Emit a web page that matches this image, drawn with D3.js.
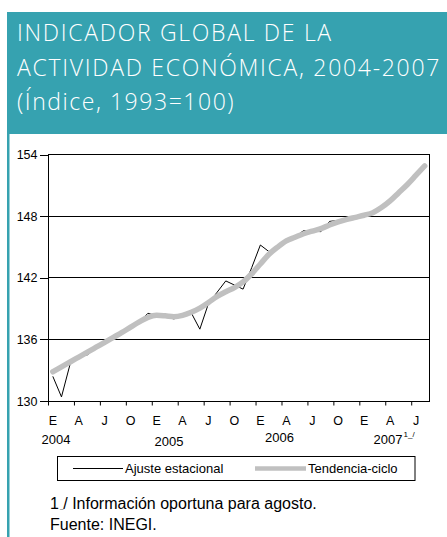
<!DOCTYPE html>
<html>
<head>
<meta charset="utf-8">
<script src="https://cdn.jsdelivr.net/npm/d3@7"></script>
<style>
  html, body { margin: 0; padding: 0; background: #fff; }
  svg { display: block; }
  text { font-family: "Liberation Sans", Arial, sans-serif; }
</style>
</head>
<body>
<svg id="chart" width="447" height="537"></svg>
<script>
// ---- data ----
const categories = [
  "2004-01","2004-02","2004-03","2004-04","2004-05","2004-06","2004-07","2004-08","2004-09","2004-10","2004-11","2004-12",
  "2005-01","2005-02","2005-03","2005-04","2005-05","2005-06","2005-07","2005-08","2005-09","2005-10","2005-11","2005-12",
  "2006-01","2006-02","2006-03","2006-04","2006-05","2006-06","2006-07","2006-08","2006-09","2006-10","2006-11","2006-12",
  "2007-01","2007-02","2007-03","2007-04","2007-05","2007-06","2007-07","2007-08"
];
const ajusteEstacional = [
  132.4, 130.4, 133.6, 134.4, 134.5, 135.2, 135.8, 136.2, 136.7, 137.2, 137.7, 138.55,
  138.3, 138.2, 138.0, 138.3, 138.6, 137.0, 139.5, 140.6, 141.7, 141.3, 140.9, 143.0,
  145.2, 144.55, 145.1, 145.6, 146.0, 146.6, 146.55, 146.5, 147.5, 147.6, 147.7, 147.9,
  148.1, 148.4, 148.9, 149.5, 150.3, 151.1, 152.0, 152.9
];
const tendenciaCiclo = [
  132.85, 133.33, 133.8, 134.28, 134.76, 135.24, 135.72, 136.2, 136.68, 137.2, 137.7, 138.15,
  138.35, 138.3, 138.22, 138.35, 138.65, 139.05, 139.6, 140.2, 140.65, 141.05, 141.6, 142.4,
  143.35, 144.3, 145.0, 145.6, 145.95, 146.3, 146.55, 146.8, 147.15, 147.45, 147.7, 147.9,
  148.1, 148.35, 148.85, 149.5, 150.3, 151.1, 152.0, 152.9
];
const monthTicks = ["2004-01","2004-04","2004-07","2004-10","2005-01","2005-04","2005-07","2005-10",
                    "2006-01","2006-04","2006-07","2006-10","2007-01","2007-04","2007-07"];
const monthTickLabels = ["E","A","J","O","E","A","J","O","E","A","J","O","E","A","J"];
const yearLabels = ["2004","2005","2006","2007"];
const yTicks = [130, 136, 142, 148, 154];
const titleLines = ["INDICADOR GLOBAL DE LA", "ACTIVIDAD ECONÓMICA, 2004-2007", "(Índice, 1993=100)"];
const seriesNames = ["Ajuste estacional", "Tendencia-ciclo"];

// ---- layout ----
const svg = d3.select("#chart");
const teal = "#36a2b0";
const plot = { left: 48.5, right: 429, top: 154.7, bottom: 401 };

// header
svg.append("rect").attr("x", 7).attr("y", 12).attr("width", 440).attr("height", 122).attr("fill", teal);
svg.append("rect").attr("x", 7).attr("y", 133).attr("width", 2.5).attr("height", 404).attr("fill", teal);
const titleY = [41, 75.5, 110];
const titleSpacing = [1.7, 1.7, 1.55];
svg.selectAll("text.title").data(titleLines).join("text")
  .attr("class", "title")
  .attr("x", 17).attr("y", (d, i) => titleY[i])
  .attr("fill", "#fff")
  .style("font-family", "'Open Sans', sans-serif")
  .style("font-weight", 300)
  .style("font-size", "23px")
  .style("letter-spacing", (d, i) => titleSpacing[i] + "px")
  .text(d => d);

// scales
const x = d3.scaleBand().domain(categories).range([plot.left, plot.right]).padding(0);
const bw = x.bandwidth();
const cx = d => x(d) + bw / 2;
const y = d3.scaleLinear().domain([130, 154]).range([plot.bottom, plot.top]);

// gridlines
svg.append("g").selectAll("line").data(yTicks.filter(v => v > 130 && v < 154)).join("line")
  .attr("x1", plot.left).attr("x2", plot.right)
  .attr("y1", d => y(d)).attr("y2", d => y(d))
  .attr("stroke", "#000").attr("stroke-width", 1).attr("shape-rendering", "crispEdges");

// series
const lineA = d3.line().x((d, i) => cx(categories[i])).y(d => y(d));
const lineT = d3.line().x((d, i) => cx(categories[i])).y(d => y(d)).curve(d3.curveMonotoneX);
svg.append("path").datum(ajusteEstacional).attr("d", lineA)
  .attr("fill", "none").attr("stroke", "#000").attr("stroke-width", 1);
svg.append("path").datum(tendenciaCiclo).attr("d", lineT)
  .attr("fill", "none").attr("stroke", "#c0c0c0").attr("stroke-width", 5.5)
  .attr("stroke-linecap", "round").attr("stroke-linejoin", "round");

// frame
svg.append("rect").attr("x", plot.left).attr("y", plot.top)
  .attr("width", plot.right - plot.left).attr("height", plot.bottom - plot.top)
  .attr("fill", "none").attr("stroke", "#000").attr("stroke-width", 1).attr("shape-rendering", "crispEdges");

// y axis
const yAxis = svg.append("g").attr("transform", `translate(${plot.left},0)`)
  .call(d3.axisLeft(y).tickValues(yTicks).tickSize(9).tickPadding(2).tickFormat(d3.format("d")));
yAxis.select(".domain").remove();
yAxis.selectAll("line").attr("stroke", "#000").attr("shape-rendering", "crispEdges");
yAxis.selectAll("text").style("font-size", "12.5px").attr("fill", "#000")
  .style("font-family", "'Liberation Sans', Arial, sans-serif");

// x axis
const xAxis = svg.append("g").attr("transform", `translate(0,${plot.bottom})`)
  .call(d3.axisBottom(x).tickValues(monthTicks).tickSize(4.5)
    .tickFormat((d, i) => monthTickLabels[i]));
xAxis.select(".domain").remove();
xAxis.selectAll("line").attr("x1", -bw / 2).attr("x2", -bw / 2).attr("stroke", "#000");
xAxis.selectAll("text").attr("y", 24).attr("dy", 0).style("font-size", "12.5px").attr("fill", "#000")
  .style("font-family", "'Liberation Sans', Arial, sans-serif");

// year labels
const yearY = [444, 446, 442, 444];
const yearX = [56, 169, 279.5, 388];
svg.selectAll("text.year").data(yearLabels).join("text")
  .attr("class", "year")
  .attr("x", (d, i) => yearX[i]).attr("y", (d, i) => yearY[i])
  .attr("text-anchor", "middle").style("font-size", "13px").text(d => d);
svg.append("text").attr("x", 403.5).attr("y", 437).style("font-size", "8px").text("1_/");

// legend
svg.append("rect").attr("x", 57.5).attr("y", 456.5).attr("width", 357.5).attr("height", 24)
  .attr("fill", "#fff").attr("stroke", "#000").attr("stroke-width", 1);
svg.append("line").attr("x1", 73).attr("x2", 123).attr("y1", 468.5).attr("y2", 468.5)
  .attr("stroke", "#000").attr("stroke-width", 1);
svg.append("line").attr("x1", 255).attr("x2", 306).attr("y1", 468.5).attr("y2", 468.5)
  .attr("stroke", "#c0c0c0").attr("stroke-width", 4.5);
const legX = [125, 308];
svg.selectAll("text.leg").data(seriesNames).join("text")
  .attr("class", "leg").attr("x", (d, i) => legX[i]).attr("y", 473)
  .style("font-size", "13px").text(d => d);

// footnotes
const fn = svg.append("text").attr("x", 50).attr("y", 509).style("font-size", "16px");
fn.append("tspan").text("1");
fn.append("tspan").style("font-size", "6px").attr("dx", 1).text("_");
fn.append("tspan").text("/ Información oportuna para agosto.");
svg.append("text").attr("x", 50).attr("y", 530).style("font-size", "16px").text("Fuente: INEGI.");
</script>
</body>
</html>
